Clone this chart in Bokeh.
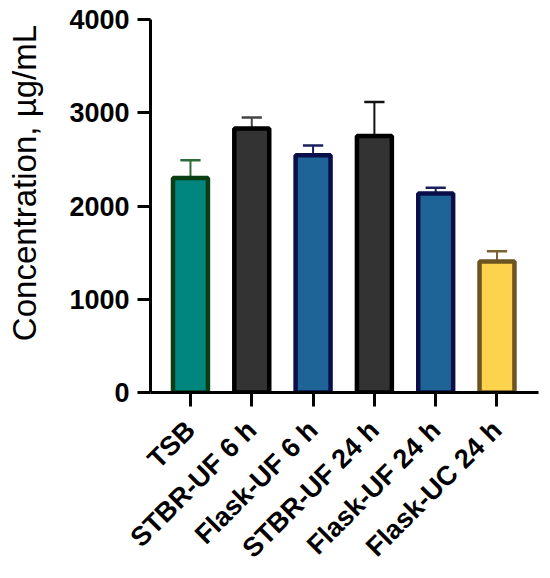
import math
from bokeh.plotting import figure
from bokeh.models import Range1d, FixedTicker, ColumnDataSource
from bokeh.embed import file_html
from bokeh.resources import INLINE

categories = ["TSB", "STBR-UF 6 h", "Flask-UF 6 h", "STBR-UF 24 h", "Flask-UF 24 h", "Flask-UC 24 h"]
means = [2300, 2830, 2545, 2750, 2135, 1405]
errors = [190, 120, 105, 365, 60, 110]
fill_colors = ["#00857F", "#333333", "#1F6496", "#333333", "#1F6496", "#FDD24D"]
line_colors = ["#0B3D12", "#000000", "#0A0F4A", "#000000", "#0A0F4A", "#6B5420"]
err_colors = ["#2E6B3A", "#444444", "#1A1F5C", "#111111", "#1A1F5C", "#7A6330"]
y_ticks = [0, 1000, 2000, 3000, 4000]
y_title = "Concentration, µg/mL"

FONT = "Liberation Sans"
xs = list(range(len(categories)))
tops = [m + e for m, e in zip(means, errors)]

src = ColumnDataSource(dict(x=xs, top=means, tops=tops, fill=fill_colors,
                            line=line_colors, err=err_colors,
                            cl=[x - 0.165 for x in xs], cr=[x + 0.165 for x in xs]))

p = figure(width=548, height=576, output_backend="svg", toolbar_location=None,
           x_range=Range1d(-0.652, 5.677), y_range=Range1d(0, 4000),
           min_border_left=150, min_border_right=10, min_border_top=19,
           min_border_bottom=183)
p.outline_line_color = None
p.xgrid.visible = False
p.ygrid.visible = False
p.background_fill_color = "white"

p.segment(x0="x", y0="top", x1="x", y1="tops", source=src, line_color="err", line_width=2)
p.segment(x0="cl", y0="tops", x1="cr", y1="tops", source=src, line_color="err", line_width=2.5)
p.vbar(x="x", top="top", bottom=0, width=0.57, source=src, fill_color="fill",
       line_color="line", line_width=4.5)

# y axis
ya = p.yaxis[0]
ya.ticker = FixedTicker(ticks=y_ticks)
ya.axis_line_width = 3
ya.major_tick_line_width = 3
ya.major_tick_in = 0
ya.major_tick_out = 13
ya.minor_tick_line_color = None
ya.major_label_text_font = FONT
ya.major_label_text_font_style = "bold"
ya.major_label_text_font_size = "27px"
ya.major_label_text_color = "black"
ya.major_label_standoff = 8
# leading no-break spaces shift the centred title upward, as in the reference
ya.axis_label = "\u00a0" * 5 + y_title
ya.axis_label_text_font = FONT
ya.axis_label_text_font_style = "normal"
ya.axis_label_text_font_size = "33px"
ya.axis_label_text_color = "black"
ya.axis_label_standoff = 23

# x axis
xa = p.xaxis[0]
xa.ticker = FixedTicker(ticks=xs)
xa.major_label_overrides = {i: c for i, c in enumerate(categories)}
xa.major_label_orientation = math.pi / 4
xa.axis_line_width = 3
xa.major_tick_line_width = 3
xa.major_tick_in = 0
xa.major_tick_out = 14
xa.minor_tick_line_color = None
xa.major_label_text_font = FONT
xa.major_label_text_font_style = "bold"
xa.major_label_text_font_size = "27px"
xa.major_label_text_color = "black"
xa.major_label_standoff = 19

open("out.html", "w").write(file_html(p, INLINE))
